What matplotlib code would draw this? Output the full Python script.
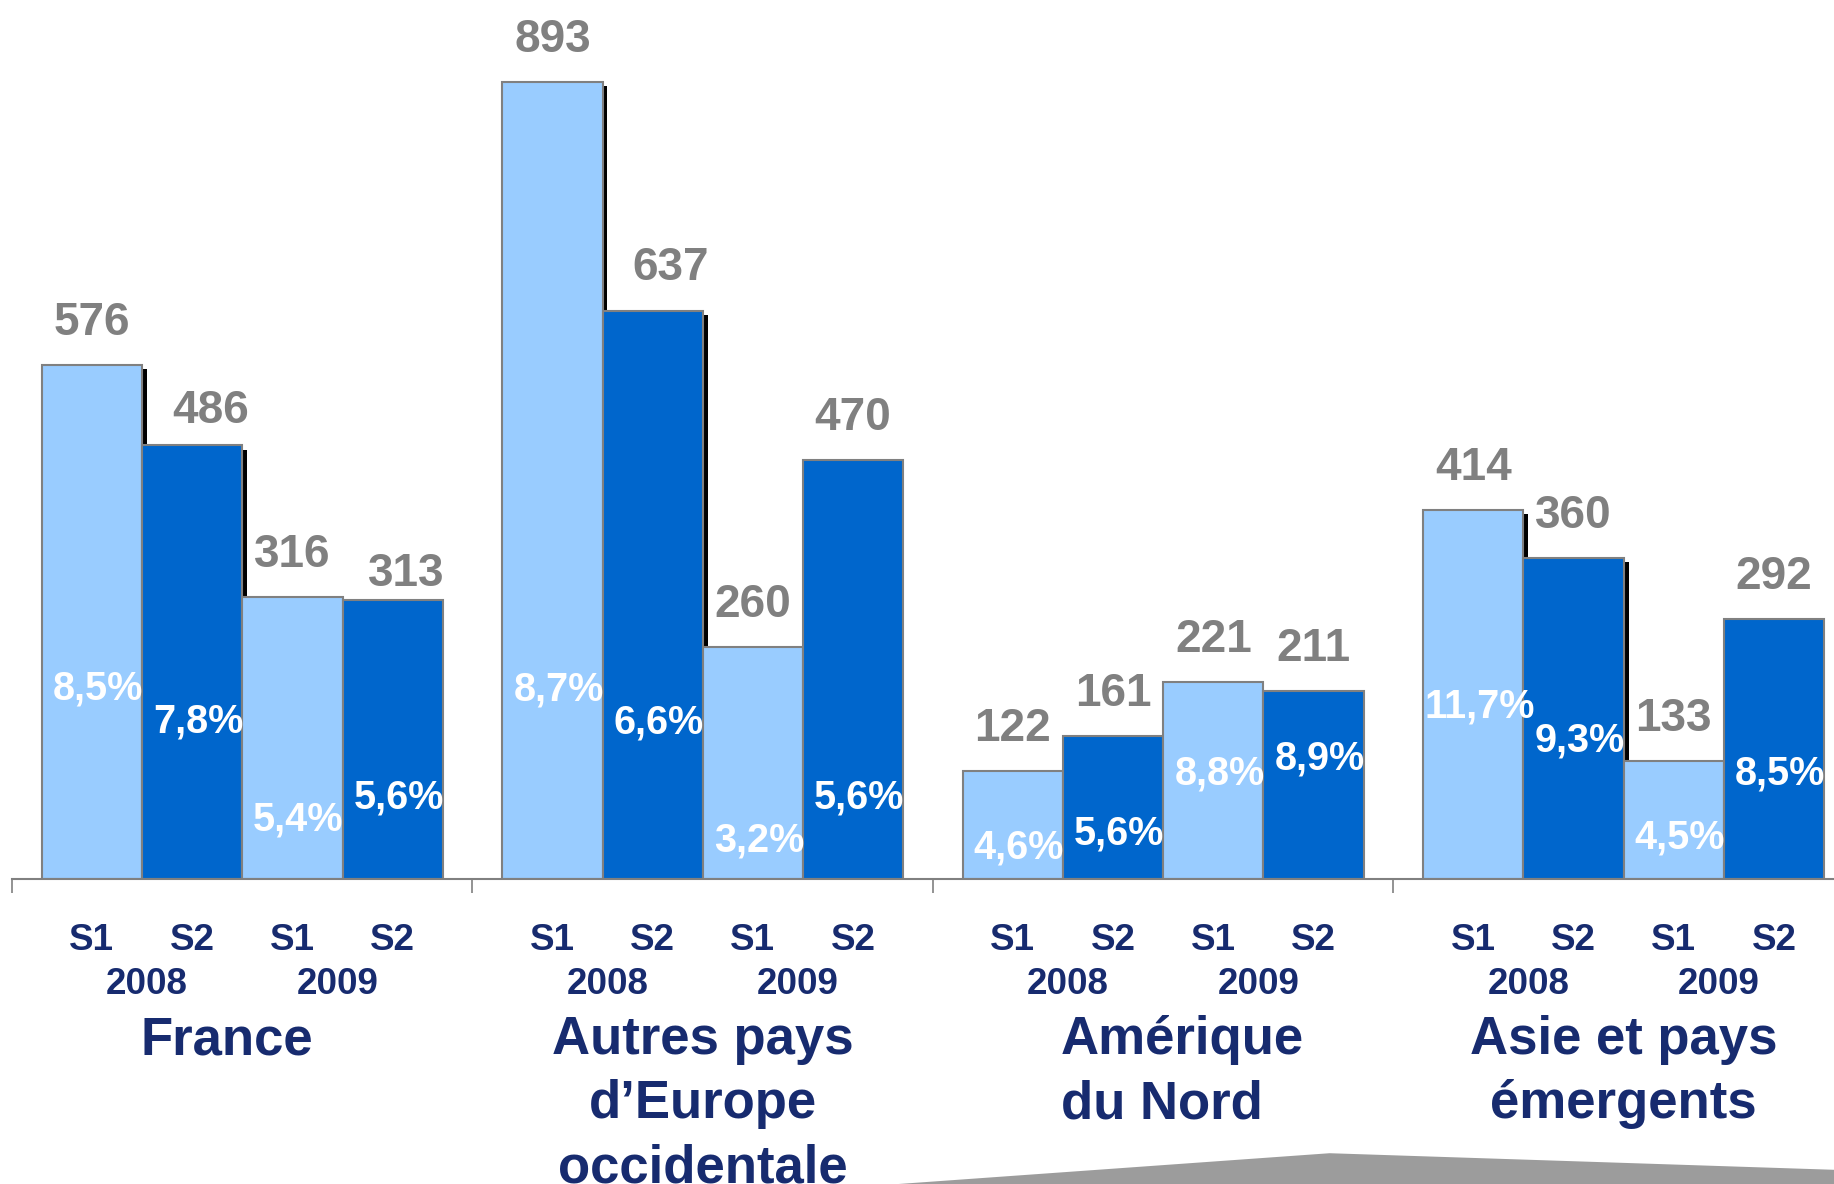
import matplotlib
matplotlib.use('Agg')
import matplotlib.pyplot as plt
import matplotlib.patheffects as pe
from matplotlib.patches import Polygon
from matplotlib.transforms import blended_transform_factory

plt.rcParams['font.family'] = ['Liberation Sans', 'DejaVu Sans']
plt.rcParams['font.weight'] = 'bold'

# data
categories = ['France', 'Autres pays\nd’Europe\noccidentale', 'Amérique\ndu Nord', 'Asie et pays\némergents']
s1_2008 = [576, 893, 122, 414]
s2_2008 = [486, 637, 161, 360]
s1_2009 = [316, 260, 221, 133]
s2_2009 = [313, 470, 211, 292]
pct_s1_2008 = ['8,5%', '8,7%', '4,6%', '11,7%']
pct_s2_2008 = ['7,8%', '6,6%', '5,6%', '9,3%']
pct_s1_2009 = ['5,4%', '3,2%', '8,8%', '4,5%']
pct_s2_2009 = ['5,6%', '5,6%', '8,9%', '8,5%']
halves = ['S1', 'S2', 'S1', 'S2']
years = ['2008', '2009']

# layout (label heights of the % texts, in data units, and small nudges)
pct_y = [[201, 200, 24, 181],
         [165, 164, 39, 143],
         [55, 31, 106, 35],
         [80, 80, 123, 106]]
val_nudge = {(1, 0): (13, 16), (1, 1): (13, 22), (3, 0): (10, 10)}
cat_dx = [-0.15, 0, 0.19, 0]
year_dx = [0.05, -0.05]

LIGHT = '#99CCFF'
DARK = '#0066CC'
EDGE = '#808080'
GREY = '#808080'
NAVY = '#172B6F'

series = [s1_2008, s2_2008, s1_2009, s2_2009]
pcts = [pct_s1_2008, pct_s2_2008, pct_s1_2009, pct_s2_2009]
colors = [LIGHT, DARK, LIGHT, DARK]

step = 4.594
seps = [i * step for i in range(len(categories))]

fig = plt.figure(figsize=(18.34, 11.84), dpi=100)

# grey decorative band at the bottom of the slide
fig.patches.append(Polygon([(0.49, 0.0), (0.725, 0.026), (1.0, 0.012), (1.0, 0.0)],
                           closed=True, transform=fig.transFigure, facecolor='#9C9C9C',
                           edgecolor='none', zorder=0))

ax = fig.add_axes([0, 0.2572, 1, 0.7428])
ax.patch.set_alpha(0)
ax.set_xlim(-0.117, 18.18)
ax.set_ylim(0, 984.7)

shadow = [pe.SimplePatchShadow(offset=(3.5, -3), shadow_rgbFace='black', alpha=1.0), pe.Normal()]

for j, vals in enumerate(series):
    xs = [s + 0.3 + j + 0.5 for s in seps]
    bars = ax.bar(xs, vals, width=1.0, color=colors[j], edgecolor=EDGE, linewidth=1.5)
    if j < 2:
        for b in bars:
            b.set_path_effects(shadow)
    for i, (x, v) in enumerate(zip(xs, vals)):
        dx, dy = val_nudge.get((j, i), (0, 21.6))
        ax.annotate(str(v), (x, v), xytext=(dx, dy), textcoords='offset points',
                    ha='center', va='baseline', fontsize=33, color=GREY, fontweight='bold')
        ax.text(x + 0.06, pct_y[j][i], pcts[j][i], ha='center', va='baseline',
                fontsize=28.5, color='white', fontweight='bold')

# axis
for side in ['top', 'right', 'left']:
    ax.spines[side].set_visible(False)
ax.spines['bottom'].set_color(EDGE)
ax.spines['bottom'].set_linewidth(1.5)
ax.spines['bottom'].set_bounds(0, 18.18)
ax.set_yticks([])
ax.set_xticks(seps)
ax.set_xticklabels([])
ax.tick_params(axis='x', length=10, width=1.2, color=EDGE)

tr = blended_transform_factory(ax.transData, fig.transFigure)
for i, s in enumerate(seps):
    for j in range(4):
        ax.text(s + 0.3 + j + 0.5, 0.1979, halves[j], transform=tr, ha='center', va='baseline',
                fontsize=26.5, color=NAVY, fontweight='bold')
    for k in range(2):
        ax.text(s + 0.3 + 2 * k + 1.0 + year_dx[k], 0.1604, years[k], transform=tr, ha='center',
                va='baseline', fontsize=26.5, color=NAVY, fontweight='bold')
    ax.text(s + 0.3 + 2.0 + cat_dx[i], 0.1427, categories[i], transform=tr, ha='center',
            va='top', multialignment='left' if i == 2 else 'center', linespacing=1.37,
            fontsize=38, color=NAVY, fontweight='bold')

fig.savefig('out.png', dpi=100)
